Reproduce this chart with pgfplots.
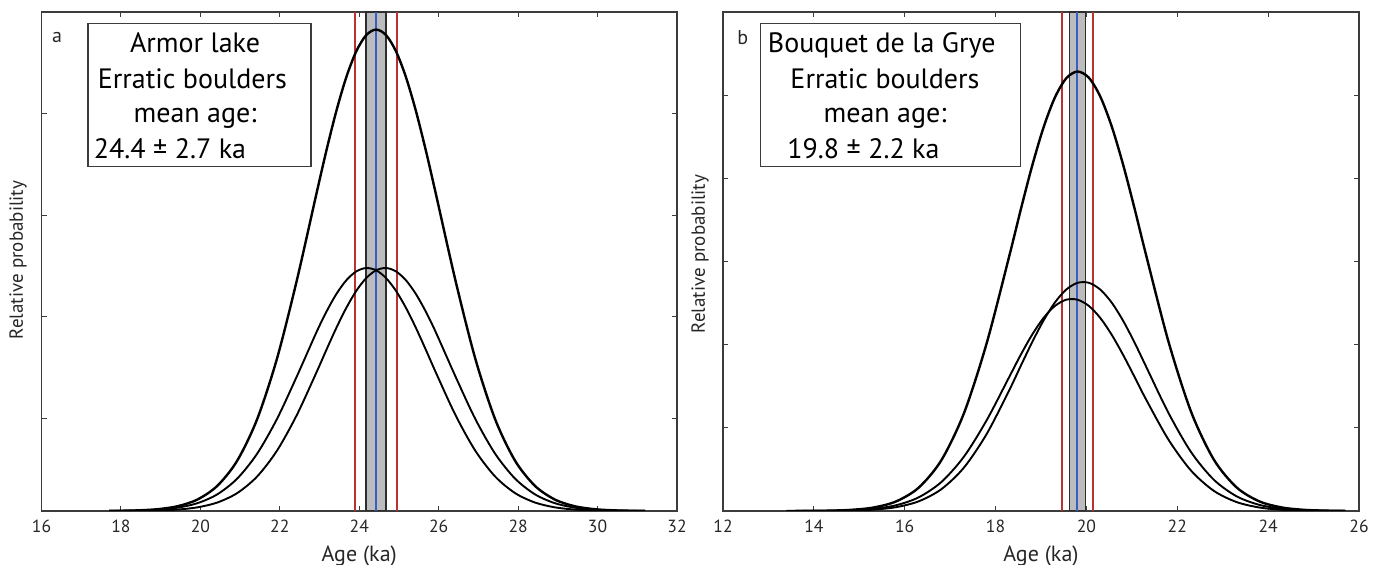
\documentclass[border=0pt]{standalone}
\usepackage{pgfplots}
\pgfplotsset{compat=1.18}
\usepackage{fontspec}
\setmainfont{PT Sans}
\setsansfont{PT Sans}
\definecolor{bandgray}{RGB}{188,188,190}
\definecolor{bandedge}{RGB}{45,45,45}
\definecolor{meanblue}{RGB}{55,95,195}
\definecolor{redline}{RGB}{185,50,50}
\definecolor{axgray}{RGB}{60,60,60}
\pgfplotsset{panel/.style={
  scale only axis, height=249.5pt, ymin=0, ymax=1,
  axis line style={line width=0.65pt, color=axgray},
  tick style={axgray, line width=0.55pt},
  major tick length=2.6pt, tick align=inside,
  yticklabels={},
  ticklabel style={font=\fontsize{8.8}{10}\selectfont, text=black!85},
  xticklabel style={yshift=-0.8pt},
  xlabel style={font=\fontsize{11}{12}\selectfont, text=black!85},
  ylabel style={font=\fontsize{9.5}{11}\selectfont, text=black!85, anchor=center},
  /pgf/number format/assume math mode=true,
  xlabel={Age (ka)}, ylabel={Relative probability},
}}
\newcommand{\boxfont}{\fontsize{14}{16}\selectfont}
\begin{document}
\begin{tikzpicture}
\path[use as bounding box] (0,0) rectangle (690.5pt,282.5pt);
% ---------------- panel a
\begin{axis}[panel, width=317.75pt, at={(20.75pt,27pt)}, anchor=south west,
  xmin=16, xmax=32, xtick={16,18,...,32},
  ytick={0.185,0.39,0.592,0.796},
  ylabel style={at={(axis description cs:-0.037,0.503)}}]
\addplot[fill=bandgray, draw=bandedge, line width=0.8pt] coordinates {(24.17,0) (24.17,1) (24.67,1) (24.67,0)} \closedcycle;
\addplot[meanblue, line width=0.9pt] coordinates {(24.42,0) (24.42,1)};
\addplot[redline, line width=0.8pt] coordinates {(23.89,0) (23.89,1)};
\addplot[redline, line width=0.8pt] coordinates {(24.95,0) (24.95,1)};
\addplot[black, smooth, line width=0.95pt] coordinates {(17.7,0.0001) (17.925,0.00029) (18.425,0.00092) (18.925,0.00259) (19.425,0.00667) (19.925,0.01563) (20.425,0.03333) (20.925,0.0647) (21.425,0.11433) (21.925,0.18388) (22.425,0.26917) (22.925,0.35865) (23.175,0.39963) (23.425,0.43495) (23.675,0.46238) (23.925,0.48012) (24.175,0.48694) (24.425,0.48238) (24.675,0.46676) (24.925,0.44113) (25.175,0.40722) (25.425,0.36718) (25.675,0.32337) (25.925,0.27818) (26.425,0.19183) (26.925,0.12041) (27.425,0.06878) (27.925,0.03577) (28.425,0.01693) (28.925,0.00729) (29.425,0.00286) (29.925,0.00102) (30.425,0.00033) (30.925,0.0001) (31.2,0.00005)};
\addplot[black, smooth, line width=0.95pt] coordinates {(17.7,0.00003) (17.925,0.0001) (18.425,0.00033) (18.925,0.00102) (19.425,0.00286) (19.925,0.00729) (20.425,0.01693) (20.925,0.03577) (21.425,0.06878) (21.925,0.12041) (22.425,0.19183) (22.925,0.27818) (23.175,0.32337) (23.425,0.36718) (23.675,0.40722) (23.925,0.44113) (24.175,0.46676) (24.425,0.48238) (24.675,0.48694) (24.925,0.48012) (25.175,0.46238) (25.425,0.43495) (25.675,0.39963) (25.925,0.35865) (26.425,0.26917) (26.925,0.18388) (27.425,0.11433) (27.925,0.0647) (28.425,0.03333) (28.925,0.01563) (29.425,0.00667) (29.925,0.00259) (30.425,0.00092) (30.925,0.00029) (31.2,0.00015)};
\addplot[black, smooth, line width=1.2pt] coordinates {(17.7,0.00015) (17.925,0.00039) (18.425,0.00125) (18.925,0.00361) (19.425,0.00953) (19.925,0.02292) (20.425,0.05026) (20.925,0.10047) (21.425,0.18311) (21.925,0.30429) (22.425,0.461) (22.925,0.63683) (23.175,0.723) (23.425,0.80213) (23.675,0.8696) (23.925,0.92125) (24.175,0.9537) (24.425,0.96476) (24.675,0.9537) (24.925,0.92125) (25.175,0.8696) (25.425,0.80213) (25.675,0.723) (25.925,0.63683) (26.425,0.461) (26.925,0.30429) (27.425,0.18311) (27.925,0.10047) (28.425,0.05026) (28.925,0.02292) (29.425,0.00953) (29.925,0.00361) (30.425,0.00125) (30.925,0.00039) (31.2,0.00015)};
\draw[axgray, line width=0.7pt, fill=white] (axis cs:17.17,0.690) rectangle (axis cs:22.785,0.9766);
\node[font=\fontsize{10}{11}\selectfont, text=black!85] at (axis cs:16.39,0.949) {a};
\node[font=\boxfont, anchor=base] at (axis cs:19.865,0.918) {Armor lake};
\node[font=\boxfont, anchor=base] at (axis cs:19.8,0.846) {Erratic boulders};
\node[font=\boxfont, anchor=base] at (axis cs:19.865,0.778) {mean age:};
\node[font=\boxfont, anchor=base west, inner sep=0pt] at (axis cs:17.31,0.707) {24.4 ± 2.7 ka};
\end{axis}
% ---------------- panel b
\begin{axis}[panel, width=318pt, at={(361.5pt,27pt)}, anchor=south west,
  xmin=12, xmax=26, xtick={12,14,...,26},
  ytick={0.1667,0.3333,0.5,0.6667,0.8333},
  ylabel style={at={(axis description cs:-0.036,0.515)}}]
\addplot[fill=bandgray, draw=bandedge, line width=0.8pt] coordinates {(19.63,0) (19.63,1) (19.98,1) (19.98,0)} \closedcycle;
\addplot[meanblue, line width=0.9pt] coordinates {(19.8,0) (19.8,1)};
\addplot[redline, line width=0.8pt] coordinates {(19.46,0) (19.46,1)};
\addplot[redline, line width=0.8pt] coordinates {(20.15,0) (20.15,1)};
\addplot[black, smooth, line width=0.95pt] coordinates {(13.4,0.00004) (13.805,0.0001) (14.305,0.0004) (14.805,0.00138) (15.305,0.00421) (15.805,0.01138) (16.305,0.02726) (16.805,0.05792) (17.305,0.10907) (17.805,0.18207) (18.305,0.2694) (18.555,0.31322) (18.805,0.35336) (19.055,0.3868) (19.305,0.41083) (19.555,0.4234) (19.805,0.4234) (20.055,0.41083) (20.305,0.3868) (20.555,0.35336) (20.805,0.31322) (21.055,0.2694) (21.305,0.22483) (21.805,0.14306) (22.305,0.08069) (22.805,0.04034) (23.305,0.01788) (23.805,0.00702) (24.305,0.00244) (24.805,0.00076) (25.305,0.00021) (25.7,0.00006)};
\addplot[black, smooth, line width=0.95pt] coordinates {(13.4,0.00002) (13.805,0.00005) (14.305,0.00022) (14.805,0.00082) (15.305,0.00264) (15.805,0.00758) (16.305,0.01931) (16.805,0.04357) (17.305,0.08714) (17.805,0.1545) (18.305,0.24282) (18.555,0.29096) (18.805,0.33828) (19.055,0.38163) (19.305,0.41774) (19.555,0.4437) (19.805,0.45727) (20.055,0.45727) (20.305,0.4437) (20.555,0.41774) (20.805,0.38163) (21.055,0.33828) (21.305,0.29096) (21.805,0.19664) (22.305,0.11779) (22.805,0.06255) (23.305,0.02944) (23.805,0.01229) (24.305,0.00454) (24.805,0.00149) (25.305,0.00043) (25.7,0.00015)};
\addplot[black, smooth, line width=1.2pt] coordinates {(13.4,0.00006) (13.805,0.00015) (14.305,0.00062) (14.805,0.0022) (15.305,0.00685) (15.805,0.01896) (16.305,0.04657) (16.805,0.10149) (17.305,0.19621) (17.805,0.33657) (18.305,0.51222) (18.555,0.60418) (18.805,0.69164) (19.055,0.76843) (19.305,0.82857) (19.555,0.8671) (19.805,0.88067) (20.055,0.8681) (20.305,0.8305) (20.555,0.7711) (20.805,0.69485) (21.055,0.60768) (21.305,0.51579) (21.805,0.3397) (22.305,0.19848) (22.805,0.10289) (23.305,0.04732) (23.805,0.01931) (24.305,0.00698) (24.805,0.00225) (25.305,0.00064) (25.7,0.00021)};
\draw[axgray, line width=0.7pt, fill=white] (axis cs:12.825,0.690) rectangle (axis cs:18.553,0.9766);
\node[font=\fontsize{10}{11}\selectfont, text=black!85] at (axis cs:12.436,0.949) {b};
\node[font=\boxfont, anchor=base] at (axis cs:15.495,0.918) {Bouquet de la Grye};
\node[font=\boxfont, anchor=base] at (axis cs:15.566,0.846) {Erratic boulders};
\node[font=\boxfont, anchor=base] at (axis cs:15.566,0.778) {mean age:};
\node[font=\boxfont, anchor=base west, inner sep=0pt] at (axis cs:13.409,0.707) {19.8 ± 2.2 ka};
\end{axis}
\end{tikzpicture}
\end{document}
